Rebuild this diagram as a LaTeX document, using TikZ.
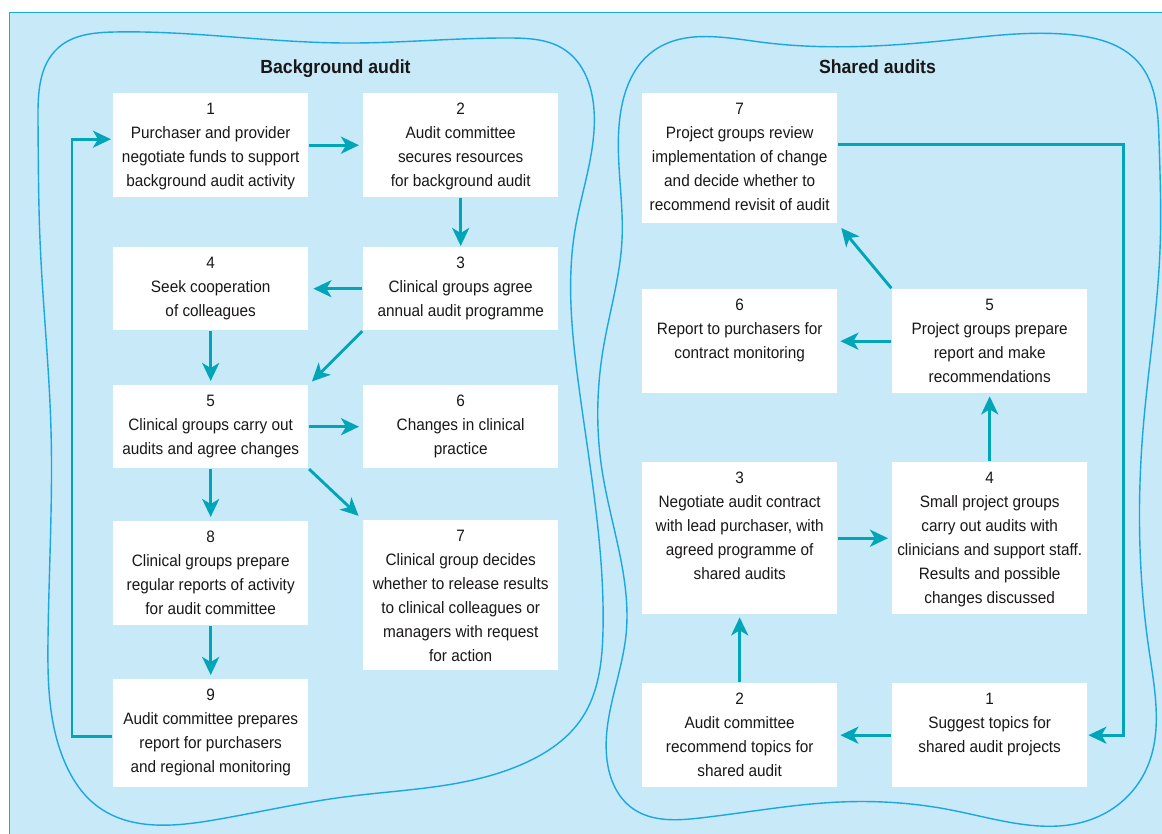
\documentclass[tikz,border=0pt]{standalone}
\usepackage{fontspec}
\setmainfont{Liberation Sans}[FakeStretch=0.93]
\usetikzlibrary{arrows.meta,hobby}
\definecolor{bgc}{HTML}{C7E9F8}
\definecolor{blobc}{HTML}{1AA7E2}
\definecolor{arrc}{HTML}{00A6B8}
\definecolor{txtc}{HTML}{1A1718}
\newcommand{\bxt}[2]{\parbox[c][#1pt][t]{195pt}{\centering\fontsize{16.5pt}{24pt}\selectfont\rule{0pt}{21pt}#2}}
\begin{document}
\begin{tikzpicture}[x=1pt,y=-1pt,
  box/.style={fill=white, inner sep=0pt, anchor=north west, text=txtc},
  flow/.style={draw=arrc, line width=2.9pt, -{Stealth[length=18pt,width=17pt,inset=5pt]}, shorten <=1pt, shorten >=4pt},
  blob/.style={draw=blobc, line width=1.4pt},
  title/.style={font=\fontsize{19pt}{22pt}\selectfont\bfseries, text=txtc, anchor=base}]
\useasboundingbox (0,0) rectangle (1162,834);
\fill[bgc] (9,13) rectangle (1162,834);
\draw[blobc, line width=1pt] (9,834) -- (9,13) -- (1162,13);
% blobs
\draw[blob, use Hobby shortcut, closed=true]
 (38,120) .. (58,48) .. (115,32) .. (344,43) .. (510,38) .. (565,50) .. (594,110)
 .. (575,230) .. (578,380) .. (603,630) .. (582,718) .. (525,763) .. (344,797)
 .. (214,820) .. (97,806) .. (66,765) .. (48,640) .. (51,430) .. (40,240);
\draw[blob, use Hobby shortcut, closed=true]
 (621,110) .. (652,52) .. (760,42) .. (951,40) .. (1074,35) .. (1138,62) .. (1159,140)
 .. (1160,250) .. (1143,430) .. (1149,650) .. (1145,772) .. (1095,818) .. (951,810)
 .. (840,802) .. (700,818) .. (632,808) .. (607,760) .. (626,635) .. (602,470)
 .. (603,350) .. (622,240);
% titles
\node[title] (t1) at (335.5,74) {Background audit};
\node[title] (t2) at (877.5,74) {Shared audits};
% left boxes
\node[box] (b1) at (113,93) {\bxt{104}{1\\Purchaser and provider\\negotiate funds to support\\background audit activity}};
\node[box] (b2) at (363,93) {\bxt{104}{2\\Audit committee\\secures resources\\for background audit}};
\node[box] (b4) at (113,247) {\bxt{83}{4\\Seek cooperation\\of colleagues}};
\node[box] (b3) at (363,247) {\bxt{83}{3\\Clinical groups agree\\annual audit programme}};
\node[box] (b5) at (113,385) {\bxt{83}{5\\Clinical groups carry out\\audits and agree changes}};
\node[box] (b6) at (363,385) {\bxt{83}{6\\Changes in clinical\\practice}};
\node[box] (b8) at (113,521) {\bxt{104}{8\\Clinical groups prepare\\regular reports of activity\\for audit committee}};
\node[box] (b7) at (363,520) {\bxt{150}{7\\Clinical group decides\\whether to release results\\to clinical colleagues or\\managers with request\\for action}};
\node[box] (b9) at (113,679) {\bxt{108}{9\\Audit committee prepares\\report for purchasers\\and regional monitoring}};
% right boxes
\node[box] (r7) at (642,93) {\bxt{130}{7\\Project groups review\\implementation of change\\and decide whether to\\recommend revisit of audit}};
\node[box] (r6) at (642,289) {\bxt{104}{6\\Report to purchasers for\\contract monitoring}};
\node[box] (r5) at (892,289) {\bxt{104}{5\\Project groups prepare\\report and make\\recommendations}};
\node[box] (r3) at (642,462) {\bxt{152}{3\\Negotiate audit contract\\with lead purchaser, with\\agreed programme of\\shared audits}};
\node[box] (r4) at (892,462) {\bxt{152}{4\\Small project groups\\carry out audits with\\clinicians and support staff.\\Results and possible\\changes discussed}};
\node[box] (r2) at (642,683) {\bxt{104}{2\\Audit committee\\recommend topics for\\shared audit}};
\node[box] (r1) at (892,683) {\bxt{104}{1\\Suggest topics for\\shared audit projects}};
% left arrows
\draw[flow] (b1.east) -- (b2.west);
\draw[flow, shorten >=1pt] (b2.south) -- (b3.north);
\draw[flow, shorten >=5pt] (b3.west) -- (b4.east);
\draw[flow] (b4.south) -- (b5.north);
\draw[flow, shorten >=5pt] (b3.south west) -- (b5.north east);
\draw[flow] (b5.east) -- (b6.west);
\draw[flow] (b5.south) -- (b8.north);
\draw[flow, shorten >=6pt] (b5.south east) -- (b7.north west);
\draw[flow] (b8.south) -- (b9.north);
\draw[flow, shorten >=2pt] ([yshift=-3pt]b9.west) -- ++(-41,0) |- ([yshift=6pt]b1.west);
% right arrows
\draw[flow, shorten >=1pt] ([yshift=14pt]r7.east) -- ++(286,0) |- (r1.east);
\draw[flow, shorten >=3pt] (r1.west) -- (r2.east);
\draw[flow, shorten >=3pt] (r2.north) -- (r3.south);
\draw[flow] (r3.east) -- (r4.west);
\draw[flow, shorten >=3pt] (r4.north) -- (r5.south);
\draw[flow, shorten >=3pt] (r5.west) -- (r6.east);
\draw[flow, shorten >=6pt] (r5.north west) -- (r7.south east);
\end{tikzpicture}
\end{document}
